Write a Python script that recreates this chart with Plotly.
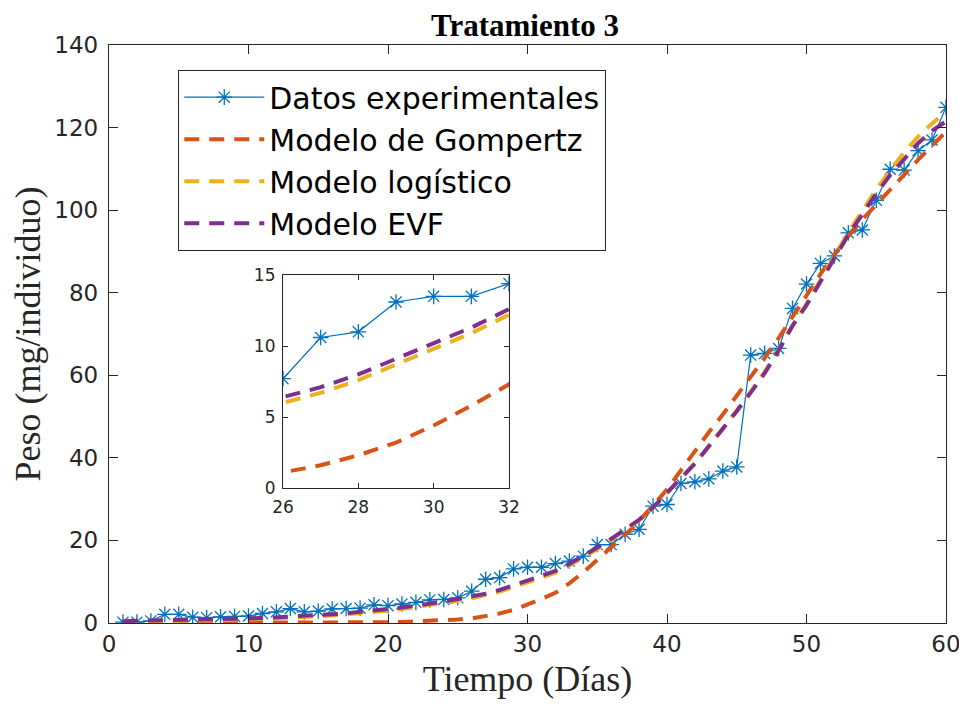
import plotly.graph_objects as go

days = list(range(1, 61))

datos_exp = [0.2, 0.2, 0.5, 2.1, 2.1, 1.4, 1.3, 1.5, 1.6, 1.7,
             2.3, 2.7, 3.5, 2.7, 2.9, 3.4, 3.5, 3.6, 4.4, 4.2,
             4.6, 5.0, 5.6, 5.7, 6.1, 7.7, 10.6, 11.0, 13.1, 13.5,
             13.5, 14.4, 15.0, 16.2, 19.0, 19.0, 21.5, 22.7, 28.3, 28.7,
             33.8, 34.2, 34.9, 36.8, 37.8, 64.9, 65.3, 66.5, 76.2, 82.1,
             87.1, 88.9, 94.5, 95.2, 102.4, 109.9, 109.7, 114.4, 117.0, 124.9]

gompertz = [0.0, 0.0, 0.0, 0.0, 0.0, 0.0, 0.0, 0.0, 0.0, 0.0,
            0.0, 0.0, 0.01, 0.01, 0.02, 0.03, 0.05, 0.08, 0.12, 0.18,
            0.27, 0.38, 0.5, 0.65, 0.85, 1.1, 1.6, 2.3, 3.2, 4.4,
            5.8, 7.3, 9.6, 12.3, 15.2, 18.2, 21.3, 24.8, 28.4, 32.4,
            37.0, 41.8, 46.2, 50.5, 55.0, 59.5, 64.2, 69.0, 74.2, 79.5,
            84.5, 89.3, 93.7, 97.7, 101.4, 105.0, 108.6, 112.2, 115.6, 119.0]

logistico = [0.3, 0.33, 0.37, 0.42, 0.47, 0.53, 0.6, 0.68, 0.77, 0.87,
             0.98, 1.1, 1.25, 1.42, 1.6, 1.8, 2.05, 2.33, 2.65, 3.0,
             3.4, 3.85, 4.3, 4.85, 5.4, 6.0, 6.7, 7.6, 8.7, 9.8,
             10.9, 12.2, 13.9, 15.8, 17.9, 20.1, 22.4, 24.9, 27.9, 31.4,
             35.0, 38.7, 42.9, 47.1, 51.5, 56.0, 60.8, 66.2, 72.1, 77.3,
             83.0, 88.8, 94.6, 99.8, 105.0, 109.7, 114.0, 117.8, 121.0, 123.8]

evf = [0.45, 0.5, 0.55, 0.6, 0.65, 0.72, 0.8, 0.9, 1.0, 1.1,
       1.22, 1.36, 1.52, 1.7, 1.9, 2.1, 2.35, 2.65, 3.0, 3.35,
       3.75, 4.2, 4.65, 5.2, 5.8, 6.4, 7.1, 8.0, 9.1, 10.2,
       11.3, 12.6, 14.3, 16.2, 18.3, 20.4, 22.6, 25.0, 28.0, 31.5,
       35.0, 38.6, 42.8, 47.0, 51.3, 55.8, 60.5, 66.0, 72.0, 77.0,
       82.6, 88.3, 94.0, 99.0, 104.0, 108.5, 112.5, 116.2, 119.2, 121.5]

names = ["Datos experimentales", "Modelo de Gompertz", "Modelo logístico", "Modelo EVF"]
colors = ["#0072BD", "#D95319", "#EDB120", "#7E2F8E"]

main_ticks_x = [0, 10, 20, 30, 40, 50, 60]
main_ticks_y = [0, 20, 40, 60, 80, 100, 120, 140]
inset_ticks_x = [26, 28, 30, 32]
inset_ticks_y = [0, 5, 10, 15]

dash = "15px,10px"
axcol = "#262626"

# page body has an 8px default margin; figure is sized to fill the rest
W, H = 959, 696

fig = go.Figure()

models = [gompertz, logistico, evf]

for xa, ya, show in [("x", "y", True), ("x2", "y2", False)]:
    fig.add_trace(go.Scatter(
        x=days, y=datos_exp, name=names[0], mode="lines+markers",
        line=dict(color=colors[0], width=1.2),
        marker=dict(symbol="asterisk-open", size=13, line=dict(color=colors[0], width=1.3)),
        xaxis=xa, yaxis=ya, showlegend=show))
    for i, m in enumerate(models):
        fig.add_trace(go.Scatter(
            x=days, y=m, name=names[i + 1], mode="lines",
            line=dict(color=colors[i + 1], width=4, dash=dash),
            xaxis=xa, yaxis=ya, showlegend=show))

axis_common = dict(
    showline=True, linecolor=axcol, linewidth=1.3, mirror="ticks",
    ticks="inside", tickcolor=axcol, tickwidth=1.3, showgrid=False,
    zeroline=False, automargin=False,
)

fig.update_layout(
    width=W, height=H,
    paper_bgcolor="white", plot_bgcolor="white",
    margin=dict(l=101, r=21, t=37, b=81),
    title=dict(text="<b>Tratamiento 3</b>", x=517 / W, xanchor="center",
               y=1 - 6 / H, yref="container", yanchor="top", pad=dict(t=0, b=0),
               font=dict(family="Liberation Serif", size=31, color="black")),
    xaxis=dict(range=[0, 60], tickvals=main_ticks_x, ticklen=9,
               tickfont=dict(family="DejaVu Sans", size=23, color=axcol),
               title=dict(text="Tiempo (Días)", standoff=10,
                          font=dict(family="Liberation Serif", size=36, color=axcol)),
               **axis_common),
    yaxis=dict(range=[0, 140], tickvals=main_ticks_y, ticklen=9,
               ticklabelstandoff=5,
               tickfont=dict(family="DejaVu Sans", size=23, color=axcol),
               title=dict(text="Peso (mg/individuo)", standoff=9,
                          font=dict(family="Liberation Serif", size=36, color=axcol)),
               **axis_common),
    xaxis2=dict(range=[26, 32], tickvals=inset_ticks_x, ticklen=5,
                ticklabelstandoff=3,
                domain=[0.2079, 0.4779], anchor="y2",
                tickfont=dict(family="DejaVu Sans", size=17, color=axcol),
                **axis_common),
    yaxis2=dict(range=[0, 15], tickvals=inset_ticks_y, ticklen=5,
                ticklabelstandoff=3,
                domain=[0.2336, 0.602], anchor="x2",
                tickfont=dict(family="DejaVu Sans", size=17, color=axcol),
                **axis_common),
    legend=dict(x=0.0824, y=0.957, xanchor="left", yanchor="top",
                bgcolor="white", bordercolor=axcol, borderwidth=1.3,
                font=dict(family="DejaVu Sans", size=30, color="black"),
                itemwidth=80, tracegroupgap=0),
    showlegend=True,
)

fig.write_html("out.html")
